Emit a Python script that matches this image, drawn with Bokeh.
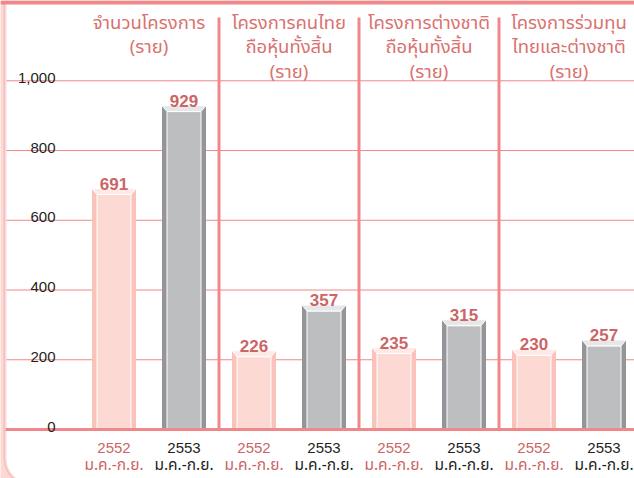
from bokeh.plotting import figure
from bokeh.models import Range1d, BoxAnnotation
from bokeh.core.properties import value
from bokeh.embed import file_html
from bokeh.resources import INLINE

# ---------------- data ----------------
headers = [
    ["จำนวนโครงการ", "(ราย)"],
    ["โครงการคนไทย", "ถือหุ้นทั้งสิ้น", "(ราย)"],
    ["โครงการต่างชาติ", "ถือหุ้นทั้งสิ้น", "(ราย)"],
    ["โครงการร่วมทุน", "ไทยและต่างชาติ", "(ราย)"],
]
years = ["2552", "2553"]
period = "ม.ค.-ก.ย."
values_2552 = [691, 226, 235, 230]
values_2553 = [929, 357, 315, 257]
y_ticks = [0, 200, 400, 600, 800, 1000]
y_tick_labels = ["0", "200", "400", "600", "800", "1,000"]

# ---------------- layout / style ----------------
W, H = 634, 478
PXX = 140.0      # px per group
PXY = 0.3487     # px per value unit
x0 = (0 - 148.5) / PXX
x1 = x0 + W / PXX
y1 = 429 / PXY
y0 = y1 - H / PXY

PINK = "#f0878a"
LIGHT_PINK = "#fcd9d3"
HEAD = "#d9726f"
VAL = "#cc6565"
DARK = "#231f20"
THAI = "Noto Sans Thai, Noto Sans, sans-serif"
NUM = "Liberation Sans"

p = figure(width=W, height=H, x_range=Range1d(x0, x1), y_range=Range1d(y0, y1),
           output_backend="svg", toolbar_location=None,
           x_axis_location=None, y_axis_location=None, min_border=0)
p.grid.visible = False
p.outline_line_color = None
p.background_fill_color = LIGHT_PINK
p.border_fill_color = LIGHT_PINK

frame = BoxAnnotation(left=x0 + 4.5 / PXX, right=x1 + 1, top=y1 - 2 / PXY, bottom=(429 - 484) / PXY,
                      fill_color="white", fill_alpha=1, line_color=PINK, line_width=3,
                      border_radius=(0, 0, 0, 26), level="underlay")
p.add_layout(frame)
# top band
p.quad(left=[x0], right=[x1], top=[y1], bottom=[y1 - 4 / PXY], fill_color=PINK, line_color=None)

# gridlines
grid_vals = [t for t in y_ticks if t > 0]
p.segment(x0=[x0 + 6 / PXX] * len(grid_vals), x1=[x1] * len(grid_vals), y0=grid_vals, y1=grid_vals,
          line_color=PINK, line_width=1)

# separators between groups
n = len(headers)
sep_x = [i + 0.5 for i in range(n - 1)]
sep_top = (429 - 17) / PXY
p.segment(x0=sep_x, x1=sep_x, y0=[0] * len(sep_x), y1=[sep_top] * len(sep_x),
          line_color=PINK, line_width=3)

# bars with bevel
bar_w = 44 / PXX
inset = 5 / PXX
cap = 6 / PXY
series = [
    (values_2552, -0.25, "#f9c3bb", "#fcd9d3", "#fdeae6"),
    (values_2553, 0.25, "#939598", "#bcbec0", "#e6e7e8"),
]
for vals, off, edge_c, fill_c, cap_c in series:
    xs = [i + off for i in range(n)]
    p.vbar(x=xs, width=bar_w, top=vals, bottom=0, fill_color=edge_c, line_color=None)
    p.vbar(x=xs, width=bar_w - 2 * inset, top=[v - cap for v in vals], bottom=0,
           fill_color=fill_c, line_color="white", line_width=1)
    px = [[x - bar_w / 2, x + bar_w / 2, x + bar_w / 2 - inset, x - bar_w / 2 + inset] for x in xs]
    py = [[v, v, v - cap, v - cap] for v in vals]
    p.patches(xs=px, ys=py, fill_color=cap_c, line_color="white", line_width=1)
    p.text(x=xs, y=vals, text=[str(v) for v in vals], text_align="center",
           text_baseline="alphabetic", y_offset=-5, text_color=VAL,
           text_font=value(NUM), text_font_size="17px", text_font_style="bold")

# baseline
p.segment(x0=[x0 + 5 / PXX], x1=[x1], y0=[0], y1=[0], line_color=PINK, line_width=3)

# y tick labels
p.text(x=[(55 - 148.5) / PXX] * len(y_ticks), y=y_ticks, text=y_tick_labels,
       text_align="right", text_baseline="alphabetic", y_offset=-3,
       text_color=DARK, text_font=value(NUM), text_font_size="15px")

# header texts
hx, hy, ht, hoff = [], [], [], []
for i, lines in enumerate(headers):
    for k, line in enumerate(lines):
        hx.append(i)
        hy.append(y1)
        ht.append(line)
        hoff.append(22 + 24.5 * k)
p.text(x=hx, y=hy, text=ht, y_offset=hoff, text_align="center", text_baseline="middle",
       text_color=HEAD, text_font=value(THAI), text_font_size="18.5px")

# x labels
for yr, off, col in [(years[0], -0.25, VAL), (years[1], 0.25, DARK)]:
    xs = [i + off for i in range(n)]
    p.text(x=xs, y=[0] * n, text=[yr] * n, y_offset=18, text_align="center",
           text_baseline="middle", text_color=col, text_font=value(NUM), text_font_size="15px")
    p.text(x=xs, y=[0] * n, text=[period] * n, y_offset=36, text_align="center",
           text_baseline="middle", text_color=col, text_font=value(THAI), text_font_size="15.5px")

open("out.html", "w").write(file_html(p, INLINE))
